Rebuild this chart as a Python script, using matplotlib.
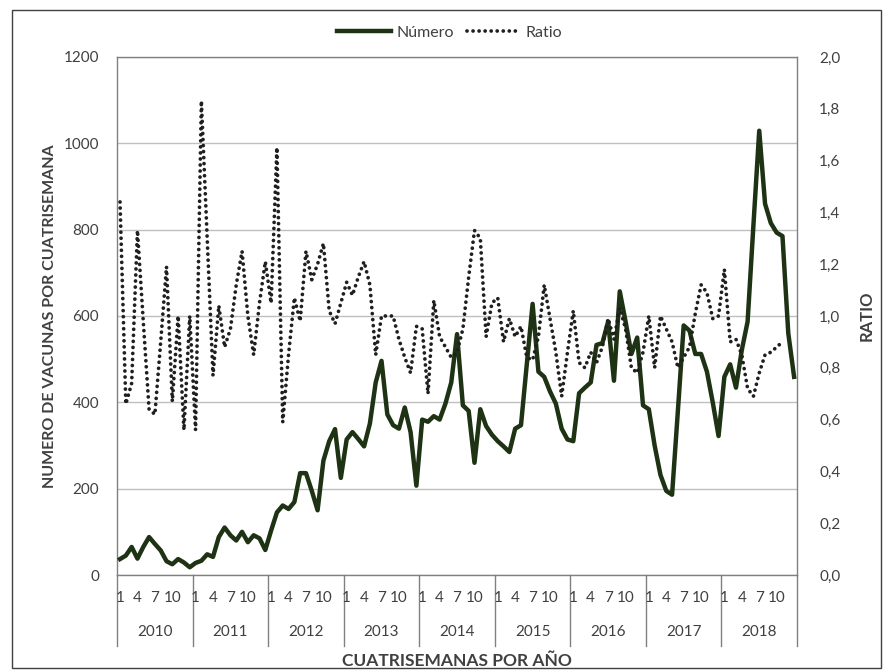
import numpy as np
import matplotlib
matplotlib.use("Agg")
import matplotlib.pyplot as plt
import matplotlib.transforms as mtransforms
from matplotlib.patches import Rectangle

plt.rcParams['font.family'] = ['Lato', 'DejaVu Sans']

years = ['2010', '2011', '2012', '2013', '2014', '2015', '2016', '2017', '2018']
period_labels = ['1', '4', '7', '10']
period_idx = [0, 3, 6, 9]
n_periods = 13

# numero de vacunas por cuatrisemana (eje izquierdo)
numero = [
    37, 45, 65, 38, 65, 88, 72, 57, 32, 25, 37, 29, 18,            # 2010
    28, 33, 48, 42, 88, 110, 92, 80, 100, 76, 92, 85, 58,          # 2011
    103, 145, 161, 153, 169, 236, 236, 195, 150, 265, 310, 338, 225,  # 2012
    314, 331, 315, 298, 351, 446, 496, 372, 347, 339, 388, 331, 207,  # 2013
    360, 355, 368, 360, 397, 446, 558, 393, 380, 260, 384, 345, 325,  # 2014
    310, 298, 285, 339, 347, 488, 628, 471, 459, 425, 397, 339, 314,  # 2015
    310, 421, 434, 446, 533, 537, 587, 450, 657, 587, 512, 550, 393,  # 2016
    384, 300, 232, 195, 186, 380, 578, 566, 512, 512, 471, 400, 322,  # 2017
    459, 488, 434, 521, 587, 810, 1029, 860, 815, 793, 785, 560, 459,  # 2018
]

# ratio (eje derecho)
ratio = [
    1.44, 0.66, 0.74, 1.33, 0.98, 0.64, 0.62, 0.90, 1.19, 0.67, 1.00, 0.56, 1.00,  # 2010
    0.56, 1.83, 1.30, 0.77, 1.04, 0.88, 0.95, 1.12, 1.25, 1.00, 0.85, 1.05, 1.21,  # 2011
    1.05, 1.65, 0.59, 0.85, 1.07, 0.98, 1.25, 1.14, 1.20, 1.28, 1.02, 0.97, 1.05,  # 2012
    1.13, 1.08, 1.15, 1.21, 1.12, 0.85, 1.00, 1.00, 1.00, 0.91, 0.84, 0.78, 0.96,  # 2013
    0.95, 0.70, 1.06, 0.92, 0.88, 0.84, 0.86, 0.95, 1.15, 1.33, 1.30, 0.92, 1.05,  # 2014
    1.07, 0.90, 0.99, 0.92, 0.96, 0.84, 0.83, 0.92, 1.12, 0.99, 0.86, 0.69, 0.86,  # 2015
    1.02, 0.82, 0.80, 0.86, 0.82, 0.88, 0.99, 0.91, 1.03, 0.95, 0.80, 0.78, 0.86,  # 2016
    1.00, 0.80, 1.00, 0.95, 0.90, 0.80, 0.84, 0.88, 1.01, 1.12, 1.09, 0.99, 1.00,  # 2017
    1.18, 0.90, 0.91, 0.85, 0.72, 0.69, 0.78, 0.85, 0.86, 0.88, 0.90, np.nan, np.nan,  # 2018
]

x = np.arange(len(numero))
txt = '#404040'
green = '#1e3214'

fig = plt.figure(figsize=(8.94, 6.72), dpi=100)
ax = fig.add_axes([0.131, 0.1443, 0.7605, 0.771])

ax.plot(x, numero, color=green, linewidth=3.2, label='Número', zorder=3)
ax.set_xlim(-0.5, len(numero) - 0.5)
ax.set_ylim(0, 1200)
ax.set_yticks(range(0, 1201, 200))
ax.grid(axis='y', color='#bfbfbf', linewidth=1)
ax.set_axisbelow(True)
ax.set_xticks([])
ax.tick_params(axis='y', length=0, pad=13, labelsize=11, labelcolor=txt)
for s in ax.spines.values():
    s.set_color('#808080')
    s.set_linewidth(1)

# linea punteada de puntos redondos
ax2 = ax.twinx()
ax2.plot(x, ratio, color='#1f1f1f', linewidth=2.7, linestyle=(0, (0.01, 1.6)),
         dash_capstyle='round', label='Ratio', zorder=4)
ax2.set_ylim(0, 2.0)
ax2.set_yticks(np.arange(0, 2.01, 0.2))
ax2.set_yticklabels([f'{v:.1f}'.replace('.', ',') for v in np.arange(0, 2.01, 0.2)])
ax2.tick_params(axis='y', length=0, pad=16, labelsize=11, labelcolor=txt)
for s in ax2.spines.values():
    s.set_visible(False)

# etiquetas de categorias en dos niveles
trans = mtransforms.blended_transform_factory(ax.transData, ax.transAxes)
for k, yr in enumerate(years):
    for lab, p in zip(period_labels, period_idx):
        ax.text(k * n_periods + p, -0.044, lab, transform=trans, ha='center', va='center',
                fontsize=11, color=txt)
    ax.text(k * n_periods + (n_periods - 1) / 2, -0.11, yr, transform=trans, ha='center',
            va='center', fontsize=11, color=txt)
for k in range(len(years) + 1):
    xb = k * n_periods - 0.5
    ax.plot([xb, xb], [0, -0.137], transform=trans, color='#808080', linewidth=1, clip_on=False)

ax.text(0.5, -0.165, 'CUATRISEMANAS POR AÑO', transform=ax.transAxes, ha='center', va='center',
        fontsize=12.5, fontweight='bold', color=txt)
ax.set_ylabel('NUMERO DE VACUNAS POR CUATRISEMANA', fontsize=11.5, fontweight='bold', color=txt)
ax.yaxis.set_label_coords(-0.088, 0.5)
ax2.set_ylabel('RATIO', fontsize=12, fontweight='bold', color=txt)
ax2.yaxis.set_label_coords(1.09, 0.5)

h1, l1 = ax.get_legend_handles_labels()
h2, l2 = ax2.get_legend_handles_labels()
fig.legend(h1 + h2, l1 + l2, loc='center', bbox_to_anchor=(0.503, 0.951), ncol=2,
           frameon=False, fontsize=11.5, handlelength=3.4, columnspacing=0.8,
           handletextpad=0.3, labelcolor=txt)

fig.patches.append(Rectangle((0.0134, 0.006), 0.972, 0.979, transform=fig.transFigure,
                             fill=False, edgecolor='#404040', linewidth=1))

fig.savefig('out.png', dpi=100)
